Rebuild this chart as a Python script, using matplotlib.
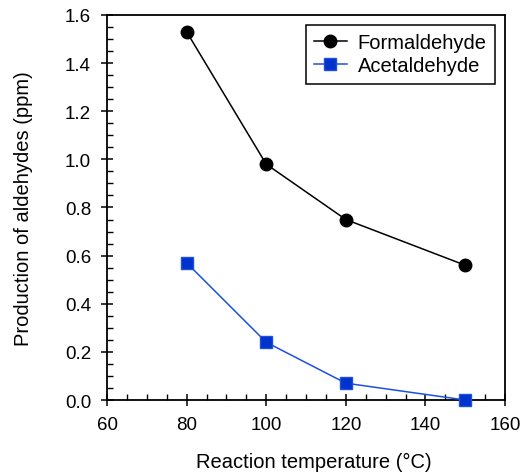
import matplotlib
matplotlib.use("Agg")
import matplotlib.pyplot as plt
from matplotlib.ticker import MultipleLocator, FormatStrFormatter

plt.rcParams["font.family"] = ["Liberation Sans", "DejaVu Sans"]

# ── Data
temperature = [80, 100, 120, 150]
formaldehyde = [1.53, 0.98, 0.75, 0.56]
acetaldehyde = [0.57, 0.24, 0.07, 0.0]

fig = plt.figure(figsize=(5.29, 4.77), dpi=100)
ax = fig.add_axes([0.2023, 0.1593, 0.7524, 0.8072])

ax.plot(temperature, formaldehyde, color="black", lw=1.1, marker="o", ms=9,
        mfc="black", mec="black", label="Formaldehyde", clip_on=False, zorder=3)
ax.plot(temperature, acetaldehyde, color="#1f4fe0", lw=1.1, marker="s", ms=8.5,
        mfc="#0033cc", mec="#1f4fe0", label="Acetaldehyde", clip_on=False, zorder=3)

ax.set_xlim(60, 160)
ax.set_ylim(0, 1.6)
ax.xaxis.set_major_locator(MultipleLocator(20))
ax.xaxis.set_minor_locator(MultipleLocator(5))
ax.yaxis.set_major_locator(MultipleLocator(0.2))
ax.yaxis.set_minor_locator(MultipleLocator(0.05))
ax.yaxis.set_major_formatter(FormatStrFormatter("%.1f"))
ax.tick_params(which="both", top=False, right=False, labelsize=13.5)
ax.tick_params(which="major", direction="inout", length=9, width=1.1, pad=7)
ax.tick_params(which="minor", direction="in", length=4.5, width=1.0)
for s in ax.spines.values():
    s.set_linewidth(1.3)

ax.set_xlabel("Reaction temperature (\u00b0C)", fontsize=14.5)
ax.set_ylabel("Production of aldehydes (ppm)", fontsize=14.5)
ax.xaxis.set_label_coords(0.52, -0.134)
ax.yaxis.set_label_coords(-0.186, 0.5)

leg = ax.legend(loc="upper right", bbox_to_anchor=(0.975, 0.975), fontsize=14.5,
                fancybox=False, framealpha=1, edgecolor="black",
                handlelength=1.6, handletextpad=0.55, borderpad=0.42,
                labelspacing=0.22, borderaxespad=0)
leg.get_frame().set_linewidth(1.1)

fig.savefig("out.png", dpi=100)
